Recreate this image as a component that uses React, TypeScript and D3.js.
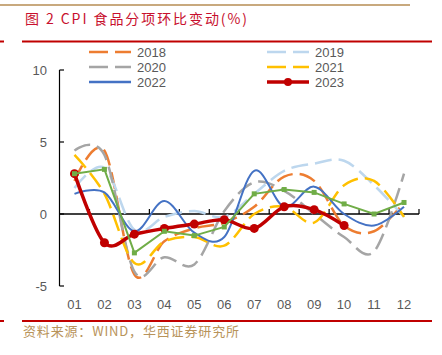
import React from 'react';
import * as d3 from 'd3';

const months = ['01', '02', '03', '04', '05', '06', '07', '08', '09', '10', '11', '12'];
const yTicks = [-5, 0, 5, 10];
const s2018 = [2.3, 4.4, -4.2, -1.9, -1.0, -0.6, 0.5, 2.6, 2.3, -0.8, -1.2, 0.8];
const s2019 = [1.8, 3.2, -1.1, -0.2, 0.2, -0.2, 1.4, 3.0, 3.5, 3.7, 2.0, -0.2];
const s2020 = [4.4, 4.1, -4.0, -3.0, -3.5, 0.2, 2.2, 1.6, 0.0, -1.6, -2.6, 2.8];
const s2021 = [4.1, 1.4, -3.4, -1.9, -1.6, -2.2, 0.0, 0.5, -0.6, 2.0, 2.3, -0.2];
const s2022 = [1.4, 1.5, -1.2, 0.9, -1.3, -1.6, 3.0, 0.5, 1.9, 0.0, -0.8, 0.5];
const s2023 = [2.8, -2.0, -1.4, -1.0, -0.7, -0.4, -1.0, 0.5, 0.3, -0.8];
const sAvg = [2.8, 3.1, -2.7, -1.2, -1.5, -0.9, 1.4, 1.7, 1.5, 0.7, 0.0, 0.8];

const seriesNames = ['2018', '2019', '2020', '2021', '2022', '2023'];

export default function App() {
  const x = d3.scaleBand<string>().domain(months).range([59.5, 419]).padding(0);
  const y = d3.scaleLinear().domain([-5, 10]).range([286, 70]);
  const cx = (i: number) => (x(months[i]) as number) + x.bandwidth() / 2;

  const smooth = d3
    .line<number>()
    .x((_, i) => cx(i))
    .y((d) => y(d))
    .curve(d3.curveCardinal.tension(0));
  const straight = d3
    .line<number>()
    .x((_, i) => cx(i))
    .y((d) => y(d));

  const dash = '17,7';
  const dashed = [
    { name: '2018', data: s2018, color: '#ED7D31' },
    { name: '2019', data: s2019, color: '#BDD7EE' },
    { name: '2020', data: s2020, color: '#A5A5A5' },
    { name: '2021', data: s2021, color: '#FFC000' },
  ];

  const legend = [
    { name: seriesNames[0], color: '#ED7D31', dash: true, col: 0, row: 0 },
    { name: seriesNames[1], color: '#BDD7EE', dash: true, col: 1, row: 0 },
    { name: seriesNames[2], color: '#A5A5A5', dash: true, col: 0, row: 1 },
    { name: seriesNames[3], color: '#FFC000', dash: true, col: 1, row: 1 },
    { name: seriesNames[4], color: '#4472C4', dash: false, col: 0, row: 2 },
    { name: seriesNames[5], color: '#C00000', dash: false, col: 1, row: 2, marker: true },
  ];
  const legX = [89, 267];
  const legY = [52, 67, 82];

  const font = 'Arial, "Liberation Sans", sans-serif';
  const cjk = '"Noto Sans CJK SC", sans-serif';

  return (
    <svg
      width={442}
      height={355}
      style={{ position: 'absolute', left: 0, top: 0, background: '#fff' }}
    >
      <line x1={0} x2={410} y1={5} y2={5} stroke="#C8A97E" strokeWidth={2} />
      <text
        x={25}
        y={24}
        fontFamily={cjk}
        fontSize={14}
        fill="#C8102E"
        textLength={222}
        lengthAdjust="spacing"
      >
        图 2 CPI 食品分项环比变动(%)
      </text>
      <line x1={0} x2={4} y1={41.5} y2={41.5} stroke="#C00000" strokeWidth={2} />
      <line x1={22} x2={432} y1={41.5} y2={41.5} stroke="#C00000" strokeWidth={2} />

      {legend.map((l) => {
        const lx = legX[l.col];
        const ly = legY[l.row];
        return (
          <g key={l.name}>
            <line
              x1={lx}
              x2={lx + 42}
              y1={ly}
              y2={ly}
              stroke={l.color}
              strokeWidth={l.marker ? 3.5 : 2.5}
              strokeDasharray={l.dash ? '19,7' : undefined}
            />
            {l.marker && <circle cx={lx + 21} cy={ly} r={4} fill={l.color} />}
            <text x={lx + 48} y={ly + 4.5} fontFamily={font} fontSize={13} fill="#595959">
              {l.name}
            </text>
          </g>
        );
      })}

      {/* y axis */}
      <line x1={59.5} x2={59.5} y1={y(10)} y2={y(-5)} stroke="#000" strokeWidth={1.2} />
      {yTicks.map((t) => (
        <g key={t}>
          <line x1={59.5} x2={64} y1={y(t)} y2={y(t)} stroke="#000" strokeWidth={1.2} />
          <text
            x={47}
            y={y(t) + 4.5}
            textAnchor="end"
            fontFamily={font}
            fontSize={13}
            fill="#595959"
          >
            {t}
          </text>
        </g>
      ))}

      {/* x axis */}
      <line x1={59.5} x2={419} y1={y(0)} y2={y(0)} stroke="#000" strokeWidth={1.5} />
      {months.map((m) => (
        <g key={m}>
          <line
            x1={(x(m) as number) + x.bandwidth()}
            x2={(x(m) as number) + x.bandwidth()}
            y1={y(0)}
            y2={y(0) - 5}
            stroke="#000"
            strokeWidth={1.2}
          />
          <text
            x={(x(m) as number) + x.bandwidth() / 2}
            y={309}
            textAnchor="middle"
            fontFamily={font}
            fontSize={13}
            fill="#595959"
          >
            {m}
          </text>
        </g>
      ))}

      {dashed.map((s) => (
        <path
          key={s.name}
          d={smooth(s.data) || ''}
          fill="none"
          stroke={s.color}
          strokeWidth={2.5}
          strokeDasharray={dash}
        />
      ))}
      <path d={smooth(s2022) || ''} fill="none" stroke="#4472C4" strokeWidth={2} />
      <path d={smooth(s2023) || ''} fill="none" stroke="#C00000" strokeWidth={3.5} />
      {s2023.map((v, i) => (
        <circle key={i} cx={cx(i)} cy={y(v)} r={4.5} fill="#C00000" />
      ))}
      <path d={straight(sAvg) || ''} fill="none" stroke="#70AD47" strokeWidth={2} />
      {sAvg.map((v, i) => (
        <rect key={i} x={cx(i) - 2.5} y={y(v) - 2.5} width={5} height={5} fill="#70AD47" />
      ))}

      <line x1={0} x2={4} y1={321} y2={321} stroke="#C00000" strokeWidth={2} />
      <line x1={22} x2={432} y1={321} y2={321} stroke="#C00000" strokeWidth={2} />
      <text
        x={23}
        y={336}
        fontFamily={cjk}
        fontSize={13}
        fill="#B8935A"
        textLength={216}
        lengthAdjust="spacing"
      >
        资料来源：WIND，华西证券研究所
      </text>
    </svg>
  );
}
